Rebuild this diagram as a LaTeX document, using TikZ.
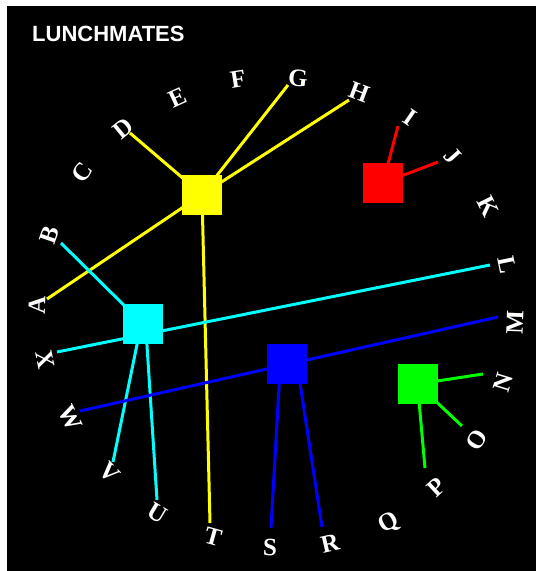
\documentclass[tikz,border=0pt]{standalone}
\usepackage{fontspec}
\setmainfont{Liberation Serif}
\newfontfamily\titlefont{Liberation Sans}
\definecolor{hubyellow}{RGB}{255,255,0}
\definecolor{hubcyan}{RGB}{0,255,255}
\definecolor{hubblue}{RGB}{0,0,255}
\definecolor{hubgreen}{RGB}{0,255,0}
\definecolor{hubred}{RGB}{255,0,0}
\begin{document}
\begin{tikzpicture}[x=1pt,y=-1pt,
  lbl/.style={text=white,font=\bfseries\fontsize{25}{25}\selectfont,inner sep=0pt},
  hub/.style={minimum size=40pt,inner sep=0pt,draw=none},
  edge/.style={line width=3pt}]
\fill[white] (0,0) rectangle (536,571);
\fill[black] (7,6) rectangle (536,571);
\useasboundingbox (0,0) rectangle (536,571);

\node[anchor=base west,text=white,font=\titlefont\bfseries\fontsize{22}{22}\selectfont,inner sep=0pt] (title) at (32,41) {LUNCHMATES};

% letters around the circle
\node[lbl,rotate=88.1]  (lA) at (37,305) {A};
\node[lbl,rotate=71]    (lB) at (50,235) {B};
\node[lbl,rotate=54]    (lC) at (82,172) {C};
\node[lbl,rotate=39.6]  (lD) at (123,128) {D};
\node[lbl,rotate=24.5]  (lE) at (178,98) {E};
\node[lbl,rotate=9.2]   (lF) at (238,79) {F};
\node[lbl,rotate=-5.3]  (lG) at (298,78) {G};
\node[lbl,rotate=-20.6] (lH) at (359,92) {H};
\node[lbl,rotate=-34.5] (lI) at (410,118) {I};
\node[lbl,rotate=-48.4] (lJ) at (453,156) {J};
\node[lbl,rotate=-63.4] (lK) at (488,207) {K};
\node[lbl,rotate=-78.3] (lL) at (507,265) {L};
\node[lbl,rotate=87.8]  (lM) at (515,322) {M};
\node[lbl,rotate=73.1]  (lN) at (503,382) {N};
\node[lbl,rotate=57.7]  (lO) at (477,440) {O};
\node[lbl,rotate=42.8]  (lP) at (437,487) {P};
\node[lbl,rotate=28.3]  (lQ) at (389,523) {Q};
\node[lbl,rotate=13.2]  (lR) at (330,543) {R};
\node[lbl,rotate=-1.5]  (lS) at (270,548) {S};
\node[lbl,rotate=-15.7] (lT) at (213,537) {T};
\node[lbl,rotate=-30.8] (lU) at (157,513) {U};
\node[lbl,rotate=-46.2] (lV) at (110,472) {V};
\node[lbl,rotate=-63]   (lW) at (70,418) {W};
\node[lbl,rotate=-78.5] (lX) at (45,360) {X};

% hub centres and line ends
\coordinate (yc) at (202,194.5);
\coordinate (cc) at (142.5,323.5);
\coordinate (bc) at (286.5,363.5);
\coordinate (gc) at (417.5,384);
\coordinate (rc) at (383,183);

\coordinate (eA) at (47,299);
\coordinate (eD) at (130,133);
\coordinate (eG) at (288,85);
\coordinate (eH) at (349,100);
\coordinate (eT) at (210,523);

\coordinate (eB) at (61,243);
\coordinate (eX) at (57,352);
\coordinate (eL) at (490,265);
\coordinate (eV) at (113,462);
\coordinate (eU) at (157,500);
\coordinate (cV) at (140,330);
\coordinate (cU) at (146,330);

\coordinate (eW) at (80,411);
\coordinate (eM) at (498,317);
\coordinate (eS) at (271,528);
\coordinate (eR) at (322,527);
\coordinate (bS) at (280,370);
\coordinate (bR) at (298,370);

\coordinate (eN) at (483,374);
\coordinate (eO) at (462,426);
\coordinate (eP) at (425,468);

\coordinate (eI) at (398,126);
\coordinate (eJ) at (438,162);

% yellow group
\draw[edge,hubyellow] (yc) -- (eA);
\draw[edge,hubyellow] (yc) -- (eD);
\draw[edge,hubyellow] (yc) -- (eG);
\draw[edge,hubyellow] (yc) -- (eH);
\draw[edge,hubyellow] (yc) -- (eT);
% cyan group
\draw[edge,hubcyan] (cc) -- (eB);
\draw[edge,hubcyan] (eX) -- (eL);
\draw[edge,hubcyan] (cV) -- (eV);
\draw[edge,hubcyan] (cU) -- (eU);
% blue group
\draw[edge,hubblue] (eW) -- (eM);
\draw[edge,hubblue] (bS) -- (eS);
\draw[edge,hubblue] (bR) -- (eR);
% green group
\draw[edge,hubgreen] (gc) -- (eN);
\draw[edge,hubgreen] (gc) -- (eO);
\draw[edge,hubgreen] (gc) -- (eP);
% red group
\draw[edge,hubred] (rc) -- (eI);
\draw[edge,hubred] (rc) -- (eJ);

% hubs
\node[hub,fill=hubyellow] (hy) at (yc) {};
\node[hub,fill=hubcyan]   (hc) at (cc) {};
\node[hub,fill=hubblue]   (hb) at (bc) {};
\node[hub,fill=hubgreen]  (hg) at (gc) {};
\node[hub,fill=hubred]    (hr) at (rc) {};
\end{tikzpicture}
\end{document}
